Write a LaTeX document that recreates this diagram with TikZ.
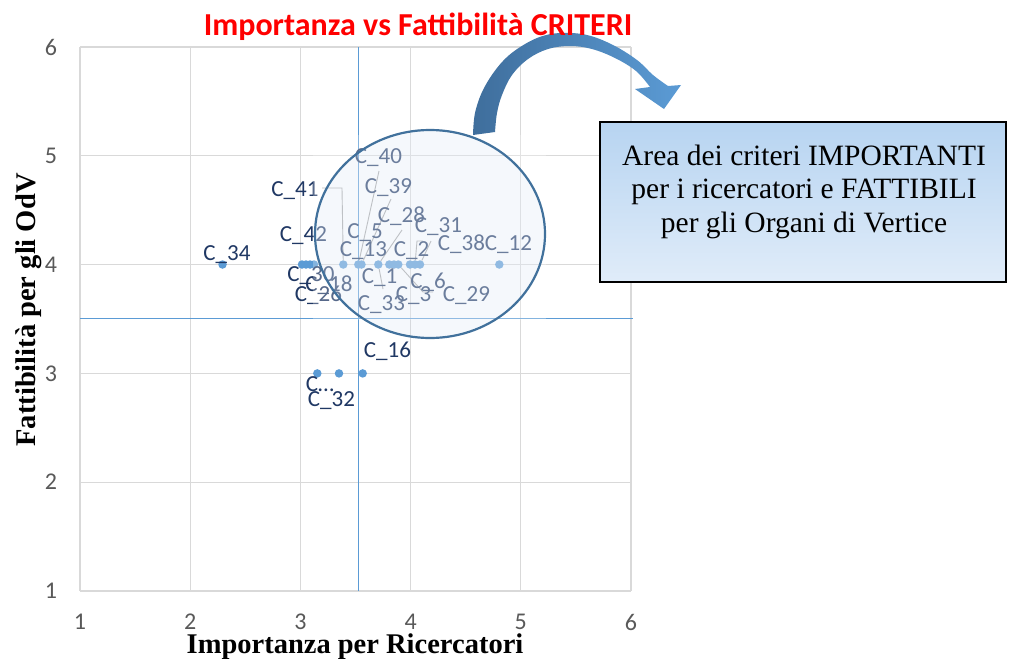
\documentclass[tikz,border=0pt]{standalone}
\usepackage{fontspec}
\setmainfont{Liberation Serif}
\newfontfamily\carl{Carlito}
\definecolor{gridc}{HTML}{D9D9D9}
\definecolor{ptc}{HTML}{5B9BD5}
\definecolor{labc}{HTML}{203864}
\definecolor{tickc}{HTML}{595959}
\definecolor{leadc}{HTML}{A6A6A6}
\definecolor{ellc}{HTML}{41719C}
\definecolor{ellfill}{HTML}{C9DAF0}
\definecolor{arrd}{HTML}{3F6E9C}
\definecolor{arrl}{HTML}{5B9BD5}
\definecolor{boxt}{HTML}{B7D4F1}
\definecolor{boxb}{HTML}{E0ECF9}
\begin{document}
\begin{tikzpicture}[x=1pt,y=-1pt,
  gridline/.style={draw=gridc, line width=1.3pt},
  cross/.style={draw=ptc, line width=1pt},
  dotpt/.style={circle, fill=ptc, inner sep=0pt, minimum size=8.5pt},
  lab/.style={font=\carl\fontsize{23}{23}\selectfont, text=labc, inner sep=0pt, anchor=base},
  ticklab/.style={font=\carl\fontsize{24}{24}\selectfont, text=tickc, inner sep=0pt},
  lead/.style={draw=leadc, line width=0.9pt},
  boxtext/.style={font=\fontsize{29.5}{29.5}\selectfont, inner sep=0pt, anchor=base},
  axtitle/.style={font=\bfseries\fontsize{28.5}{28.5}\selectfont, inner sep=0pt, anchor=base}
  ]
\useasboundingbox (0,0) rectangle (1013,659);
\fill[white] (0,0) rectangle (1013,659);
% grid
\foreach \gx in {80,190.2,300.4,410.6,520.8,631} \draw[gridline] (\gx,47) -- (\gx,591);
\foreach \gy in {47,155.8,264.6,373.4,482.2,591} \draw[gridline] (80,\gy) -- (631,\gy);
% crosshair
\draw[cross] (358,47) -- (358,591);
\draw[cross] (80,318) -- (633,318);
% points
\foreach \px [count=\i] in {222.5,302,306,310,314,343.3,358.3,361.5,378.3,389.3,394,398.3,410,415,420,499.3}
  \node[dotpt] (p\i) at (\px,264.5) {};
\foreach \px [count=\i] in {317.3,339,362.7}
  \node[dotpt] (q\i) at (\px,373.4) {};
% leader lines
\coordinate (b41a) at (322,188);
\coordinate (b41b) at (342,188);
\draw[lead] (b41a) -- (b41b) -- (p6);
\coordinate (b40) at (379,171);
\draw[lead] (b40) -- (p7);
\coordinate (b39) at (391,199);
\draw[lead] (b39) -- (p8);
\coordinate (b28) at (402,230);
\draw[lead] (b28) -- (p9);
\coordinate (b31a) at (423,241);
\coordinate (b31b) at (417,241);
\draw[lead] (b31a) -- (b31b) -- (p14);
\coordinate (b38) at (431,241);
\draw[lead] (b38) -- (p15);
\coordinate (b3a) at (423,292);
\coordinate (b3b) at (433,292);
\draw[lead] (p12) -- (b3a) -- (b3b);
\coordinate (b33) at (383,289);
\draw[lead] (p9) -- (b33);
% labels
\node[lab] (l40) at (378.5,163) {C\_40};
\node[lab] (l39) at (388.5,193) {C\_39};
\node[lab] (l28) at (401.5,222) {C\_28};
\node[lab] (l31) at (438.5,232) {C\_31};
\node[lab] (l38) at (461.5,250) {C\_38};
\node[lab] (l12) at (508.5,250) {C\_12};
\node[lab] (l2) at (411.5,256.7) {C\_2};
\node[lab] (l13) at (363.5,256.7) {C\_13};
\node[lab] (l5) at (365,238.3) {C\_5};
\node[lab] (l42) at (303.5,241.7) {C\_42};
\node[lab] (l41) at (295,196.7) {C\_41};
\node[lab] (l34) at (227,260) {C\_34};
\node[lab] (l30) at (311,281.7) {C\_30};
\node[lab] (l18) at (329,291.7) {C\_18};
\node[lab] (l26) at (318.5,301.7) {C\_26};
\node[lab] (l1) at (379.5,283.3) {C\_1};
\node[lab] (l6) at (428,288.3) {C\_6};
\node[lab] (l3) at (413.5,301.7) {C\_3};
\node[lab] (l33) at (381.5,310) {C\_33};
\node[lab] (l29) at (466.5,301.7) {C\_29};
\node[lab] (l16) at (387.5,357.3) {C\_16};
\node[lab] (lc) at (320,391.7) {C…};
\node[lab] (l32) at (331.5,406.7) {C\_32};
% overlay picture and ellipse
\fill[white, opacity=0.25] (313,135) rectangle (546,320);
\draw[draw=ellc, line width=2.2pt, fill=ellfill, fill opacity=0.18] (430,234) ellipse [x radius=115, y radius=104];
% curved arrow
\shade[left color=arrd, right color=arrl]
  plot[smooth, tension=0.6] coordinates {(473,135) (475,113) (483,90) (497,68) (513,52) (537,38) (560,33) (587,35) (613,45) (637,60) (653,75) (668,86)}
  -- (681,85) -- (664,109) -- (635,89) -- (650,87)
  -- plot[smooth, tension=0.6] coordinates {(650,87) (636,71) (615,58) (592,49) (570,46) (548,49) (528,59) (512,75) (502,95) (497,113) (495,132)}
  -- cycle;
% text box
\node[draw=black, line width=1.5pt, top color=boxt, bottom color=boxb, minimum width=406pt, minimum height=160pt, inner sep=0pt] (area) at (803,202) {};
\node[boxtext] (t1) at (804,165) {Area dei criteri IMPORTANTI};
\node[boxtext] (t2) at (804,198.5) {per i ricercatori e FATTIBILI};
\node[boxtext] (t3) at (804,232) {per gli Organi di Vertice};
% title
\node[font=\carl\bfseries\fontsize{32}{32}\selectfont, text=red, inner sep=0pt, anchor=base] (title) at (418,35) {Importanza vs Fattibilità CRITERI};
% axis titles
\node[axtitle] (xt) at (355,653) {Importanza per Ricercatori};
\node[axtitle, rotate=90] (yt) at (35,310) {Fattibilità per gli OdV};
% tick labels
\foreach \v/\gy in {6/47,5/155.8,4/264.6,3/373.4,2/482.2,1/591}
  \node[ticklab] (ty\v) at (51,\gy) {\v};
\foreach \v/\gx in {1/80,2/190.2,3/300.4,4/410.6,5/520.8,6/631}
  \node[ticklab] (tx\v) at (\gx,622) {\v};
\end{tikzpicture}
\end{document}
